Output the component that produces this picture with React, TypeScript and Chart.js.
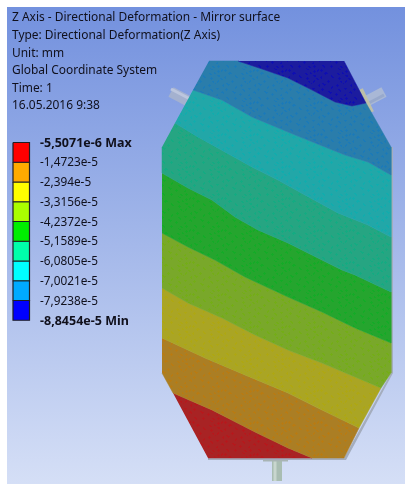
import React, { useEffect, useRef } from "react";
import { Chart, registerables } from "chart.js";

Chart.register(...registerables);

type P = { x: number; y: number };
const p = (x: number, y: number): P => ({ x, y });

const headerLines = [
  "Z Axis - Directional Deformation - Mirror surface",
  "Type: Directional Deformation(Z Axis)",
  "Unit: mm",
  "Global Coordinate System",
  "Time: 1",
  "16.05.2016 9:38",
];
const legendLabels = [
  "-5,5071e-6 Max",
  "-1,4723e-5",
  "-2,394e-5",
  "-3,3156e-5",
  "-4,2372e-5",
  "-5,1589e-5",
  "-6,0805e-5",
  "-7,0021e-5",
  "-7,9238e-5",
  "-8,8454e-5 Min",
];
const legendColors = ["#ff0000", "#ffaa00", "#ffff00", "#aaff00", "#00ee00", "#00ffaa", "#00ffff", "#00aaff", "#0000ff"];
const bandColors = ["#1c1c9e", "#2a7dab", "#22a7a8", "#26a582", "#25a52e", "#79a82a", "#aaa524", "#ab7e24", "#a82324"];
const speckleColors = ["#0000c8", "#0a78c8", "#00b4b4", "#00b482", "#00b41e", "#6eb400", "#b4aa00", "#c87800", "#c80a14"];

const speckleTile = [
  "................................",
  "..##.......#..............#.....",
  "...##.....###.......##...###....",
  "....#......#.........##...#.....",
  "..................#.............",
  ".#.................##.........#.",
  "###.......................#..##.",
  ".#.......................###.#..",
  ".....##...............#...#.....",
  "....####.........##...##........",
  ".....#............##............",
  "...........#.............###....",
  ".#.........##.............##....",
  "##..........##.....#............",
  ".#................###.......##..",
  "...................#.........##.",
  "........#.................#.....",
  ".......###..........##...##.....",
  "........#............#...#......",
  "..##...................#........",
  "...###...........#.............#",
  "....#...........###...........##",
  "............#....#.............#",
  "...........##...................",
  "..#........#............###.....",
  ".###..............##.....#......",
  "..#................##...........",
  "........##..........#.........#.",
  ".........###.................###",
  "..........#.....#..............#",
  "...............###.......#......",
  "................#.......##......",
];

const iso12 = [p(238, 61), p(265, 70), p(288, 78), p(312, 90), p(335, 102), p(352, 106), p(366, 103)];
const iso23 = [p(193, 90), p(222, 100), p(252, 117), p(288, 132), p(315, 143), p(345, 155), p(368, 162), p(391, 175)];
const iso34 = [p(175, 123), p(198, 137), p(225, 152), p(252, 167), p(278, 180), p(305, 195), p(338, 213), p(368, 225), p(391, 237)];
const iso45 = [p(162, 173), p(188, 188), p(212, 200), p(235, 217), p(258, 230), p(288, 243), p(312, 255), p(342, 270), p(355, 275), p(391, 292)];
const iso56 = [p(162, 233), p(188, 247), p(215, 260), p(245, 277), p(288, 297), p(322, 312), p(355, 328), p(391, 343)];
const iso67 = [p(162, 288), p(188, 303), p(222, 318), p(255, 335), p(288, 350), p(322, 363), p(355, 377), p(381, 388)];
const iso78 = [p(162, 338), p(205, 358), p(245, 375), p(288, 393), p(322, 410), p(359, 428)];
const iso89 = [p(173, 393), p(212, 410), p(255, 432), p(288, 448), p(312, 458)];

const rev = (a: P[]) => [...a].reverse();
const bands: P[][] = [
  [...iso12, p(344, 61)],
  [p(209, 61), ...iso12, p(391, 147), p(391, 175), ...rev(iso23)],
  [...iso23, ...rev(iso34)],
  [...iso34, p(391, 292), ...rev(iso45), p(162, 147)],
  [...iso45, p(391, 343), ...rev(iso56)],
  [...iso56, p(391, 373), ...rev(iso67)],
  [...iso67, ...rev(iso78)],
  [...iso78, p(344, 458), ...rev(iso89), p(162, 373)],
  [...iso89, p(208, 458)],
];
const shadow = [p(391, 147), p(393, 147), p(393, 373), p(346, 460), p(208, 460), p(208, 458), p(344, 458), p(391, 373)];
const pipeLeft = [p(171, 92), p(190, 102)];
const pipeLeftShine = [p(171, 89), p(190, 99)];
const pipeRight = [p(365, 102), p(384, 92)];
const pipeRightShine = [p(365, 105), p(384, 95)];
const flange = [p(361, 89), p(372, 112)];
const stem = [p(277, 458), p(277, 481)];
const stemShine = [p(275, 458), p(275, 481)];
const plate = [p(263, 460), p(288, 460)];
const bgCorners = [p(7, 7), p(405, 7), p(405, 484), p(7, 484)];

const legendTop = 142.5;
const legendStep = 19.75;
const legendValues = legendLabels.map((_, i) => legendTop + i * legendStep);

const FONT = '"Noto Sans", sans-serif';

const textPlugin = {
  id: "annotationText",
  afterDatasetsDraw(chart: any) {
    const { ctx, scales } = chart;
    const X = (v: number) => scales.x.getPixelForValue(v);
    const Y = (v: number) => scales.y.getPixelForValue(v);
    ctx.save();
    ctx.textBaseline = "middle";
    ctx.fillStyle = "#10101c";
    ctx.font = `11.95px ${FONT}`;
    headerLines.forEach((t, i) => ctx.fillText(t, X(12), Y(18 + i * 17.6)));
    legendLabels.forEach((t, i) => {
      const edge = i === 0 || i === legendLabels.length - 1;
      ctx.font = edge ? `bold 12.5px ${FONT}` : `11.8px ${FONT}`;
      ctx.fillText(t, X(40), Y(legendValues[i] + 0.7));
    });
    ctx.restore();
  },
};

function speckled(ctx: CanvasRenderingContext2D, base: string, spot: string) {
  const size = speckleTile.length;
  const tile = document.createElement("canvas");
  tile.width = size;
  tile.height = size;
  const t = tile.getContext("2d")!;
  t.fillStyle = base;
  t.fillRect(0, 0, size, size);
  t.fillStyle = spot;
  t.globalAlpha = 0.45;
  speckleTile.forEach((row, j) =>
    row.split("").forEach((c, i) => {
      if (c === "#") t.fillRect(i, j, 1, 1);
    })
  );
  return ctx.createPattern(tile, "repeat")!;
}

export default function App() {
  const ref = useRef<HTMLCanvasElement | null>(null);
  useEffect(() => {
    document.body.style.margin = "0";
    document.body.style.background = "#ffffff";
    const canvas = ref.current!;
    const c2d = canvas.getContext("2d")!;
    const g = c2d.createLinearGradient(0, 7, 0, 484);
    g.addColorStop(0, "#7391de");
    g.addColorStop(1, "#d5dff6");

    const poly = (data: P[], color: any, order: number, edge?: string) => ({
      type: "line" as const,
      data,
      showLine: true,
      fill: "shape",
      backgroundColor: color,
      borderColor: edge ?? color,
      borderWidth: edge ? 0.5 : 0,
      pointRadius: 0,
      tension: 0,
      order,
    });
    const stroke = (data: P[], color: string, w: number, order: number) => ({
      type: "line" as const,
      data,
      showLine: true,
      fill: false,
      borderColor: color,
      borderWidth: w,
      pointRadius: 0,
      tension: 0,
      borderCapStyle: "butt" as const,
      order,
    });

    const swatches = legendColors.map((c, i) => {
      const x0 = 13;
      const x1 = 29.5;
      const y0 = legendValues[i];
      const y1 = y0 + legendStep;
      return {
        type: "line" as const,
        data: [p(x0, y0), p(x1, y0), p(x1, y1), p(x0, y1), p(x0, y0)],
        showLine: true,
        fill: "shape",
        backgroundColor: c,
        borderColor: "#1e1e24",
        borderWidth: 1.2,
        pointRadius: 0,
        tension: 0,
        order: 1,
      };
    });

    const chart = new Chart(canvas, {
      type: "scatter",
      data: {
        datasets: [
          ...swatches,
          ...bands.map((b, i) => poly(b, speckled(c2d, bandColors[i], speckleColors[i]), 2, bandColors[i])),
          poly(shadow, "#a4adbd", 3),
          stroke(flange, "#bdbfa8", 4, 4),
          stroke(pipeLeftShine, "#bcc6de", 3, 4),
          stroke(pipeLeft, "#a4b1cf", 11, 5),
          stroke(pipeRightShine, "#98a9cc", 3, 4),
          stroke(pipeRight, "#a9b8d6", 11, 5),
          stroke(plate, "#a8b4b4", 3, 4),
          stroke(stemShine, "#c8d6ce", 3, 4),
          stroke(stem, "#a9bdb2", 10, 5),
          poly(bgCorners, g, 9),
        ] as any,
      },
      options: {
        animation: false,
        responsive: false,
        maintainAspectRatio: false,
        layout: { padding: 0 },
        plugins: { legend: { display: false }, tooltip: { enabled: false }, title: { display: false } },
        scales: {
          x: { type: "linear", min: 0, max: 406, display: false },
          y: { type: "linear", min: 0, max: 484, reverse: true, display: false },
        },
      },
      plugins: [textPlugin],
    } as any);
    return () => chart.destroy();
  }, []);
  return <canvas ref={ref} width={406} height={484} style={{ display: "block", width: 406, height: 484 }} />;
}
